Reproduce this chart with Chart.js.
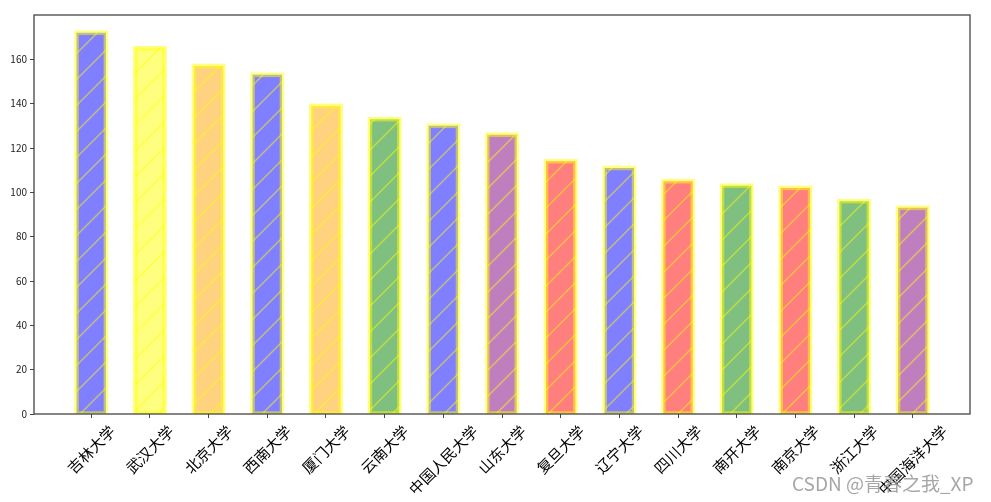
<!DOCTYPE html>
<html><head><meta charset="utf-8">
<script src="https://cdn.jsdelivr.net/npm/chart.js@4.4.1/dist/chart.umd.min.js"></script>
<style>html,body{margin:0;padding:0;background:#fff;overflow:hidden}#wrap{width:991px;height:502px}</style>
</head><body><div id="wrap"><canvas id="c" width="991" height="502"></canvas></div>
<script>
const categories = ['吉林大学','武汉大学','北京大学','西南大学','厦门大学','云南大学','中国人民大学','山东大学','复旦大学','辽宁大学','四川大学','南开大学','南京大学','浙江大学','中国海洋大学'];
const values = [172, 165, 157, 153, 139, 133, 130, 126, 114, 111, 105, 103, 102, 96, 93];
const barColorNames = ['blue','yellow','orange','blue','orange','green','blue','purple','red','blue','red','green','red','green','purple'];
const yTickValues = [0, 20, 40, 60, 80, 100, 120, 140, 160];
const watermark = 'CSDN @青春之我_XP';

const fillMap = {
  blue: 'rgba(0,0,255,0.5)', yellow: 'rgba(255,255,0,0.5)', orange: 'rgba(255,165,0,0.5)',
  green: 'rgba(0,128,0,0.5)', purple: 'rgba(128,0,128,0.5)', red: 'rgba(255,0,0,0.5)'
};
const EDGE = 'rgba(255,255,0,0.5)';
const CJK = '"Noto Sans CJK SC", "Noto Sans", sans-serif';

const hatchPlugin = {
  id: 'hatchEdge',
  afterDatasetsDraw(chart) {
    const ctx = chart.ctx, area = chart.chartArea;
    const meta = chart.getDatasetMeta(0);
    ctx.save();
    ctx.beginPath(); ctx.rect(area.left, area.top, area.width, area.height); ctx.clip();
    meta.data.forEach(bar => {
      const p = bar.getProps(['x','y','base','width'], true);
      const l = p.x - p.width/2, r = p.x + p.width/2;
      const t = Math.min(p.y, p.base), b = Math.max(p.y, p.base);
      ctx.save();
      ctx.beginPath(); ctx.rect(l, t, r-l, b-t); ctx.clip();
      ctx.strokeStyle = EDGE; ctx.lineWidth = 1.5;
      ctx.beginPath();
      const sp = 26;
      const kMin = Math.floor((l + t)/sp)*sp - sp, kMax = r + b + sp;
      for (let k = kMin; k <= kMax; k += sp) { ctx.moveTo(k - t, t); ctx.lineTo(k - b, b); }
      ctx.stroke();
      ctx.restore();
      ctx.strokeStyle = EDGE; ctx.lineWidth = 4.5;
      ctx.strokeRect(l, t, r-l, b-t);
    });
    ctx.restore();
  },
  afterDraw(chart) {
    const ctx = chart.ctx, area = chart.chartArea, xs = chart.scales.x;
    ctx.save();
    ctx.strokeStyle = '#444'; ctx.lineWidth = 1.3;
    ctx.strokeRect(area.left, area.top, area.right - area.left, area.bottom - area.top);
    const fs = 15;
    ctx.font = fs + 'px ' + CJK; ctx.fillStyle = '#000';
    ctx.textAlign = 'center'; ctx.textBaseline = 'middle';
    categories.forEach((lab, i) => {
      const x = xs.getPixelForValue(i);
      const w = ctx.measureText(lab).width;
      const bb = (w + fs) * Math.SQRT1_2;
      const cy = area.bottom + 9 + bb/2;
      ctx.save(); ctx.translate(x, cy); ctx.rotate(-Math.PI/4); ctx.fillText(lab, 0, 0); ctx.restore();
    });
    ctx.font = '19px ' + CJK; ctx.textAlign = 'left'; ctx.textBaseline = 'alphabetic';
    ctx.fillStyle = 'rgba(150,150,150,0.85)';
    ctx.fillText(watermark, 792, 491);
    ctx.restore();
  }
};

new Chart(document.getElementById('c').getContext('2d'), {
  type: 'bar',
  data: { datasets: [{
    data: values.map((v, i) => ({ x: i, y: v })),
    backgroundColor: barColorNames.map(c => fillMap[c]),
    borderWidth: 0, categoryPercentage: 1, barPercentage: 0.5
  }]},
  options: {
    responsive: false, animation: false, devicePixelRatio: 1,
    layout: { padding: { top: 15, right: 21, left: 0, bottom: 0 } },
    plugins: { legend: { display: false }, tooltip: { enabled: false } },
    scales: {
      x: {
        type: 'linear', min: -0.975, max: 14.975, offset: false,
        afterBuildTicks: s => { s.ticks = categories.map((_, i) => ({ value: i })); },
        afterFit: s => { s.height = 88; },
        ticks: { display: false },
        grid: { offset: false, drawOnChartArea: false, drawTicks: true, tickLength: 4, color: '#444', lineWidth: 1 },
        border: { display: false }
      },
      y: {
        min: 0, max: 180,
        afterBuildTicks: s => { s.ticks = yTickValues.map(v => ({ value: v })); },
        afterFit: s => { s.width = 34; },
        ticks: { font: { family: CJK, size: 10 }, color: '#222', padding: 3 },
        grid: { drawOnChartArea: false, drawTicks: true, tickLength: 4, color: '#444', lineWidth: 1 },
        border: { display: false }
      }
    }
  },
  plugins: [hatchPlugin]
});
</script></body></html>
